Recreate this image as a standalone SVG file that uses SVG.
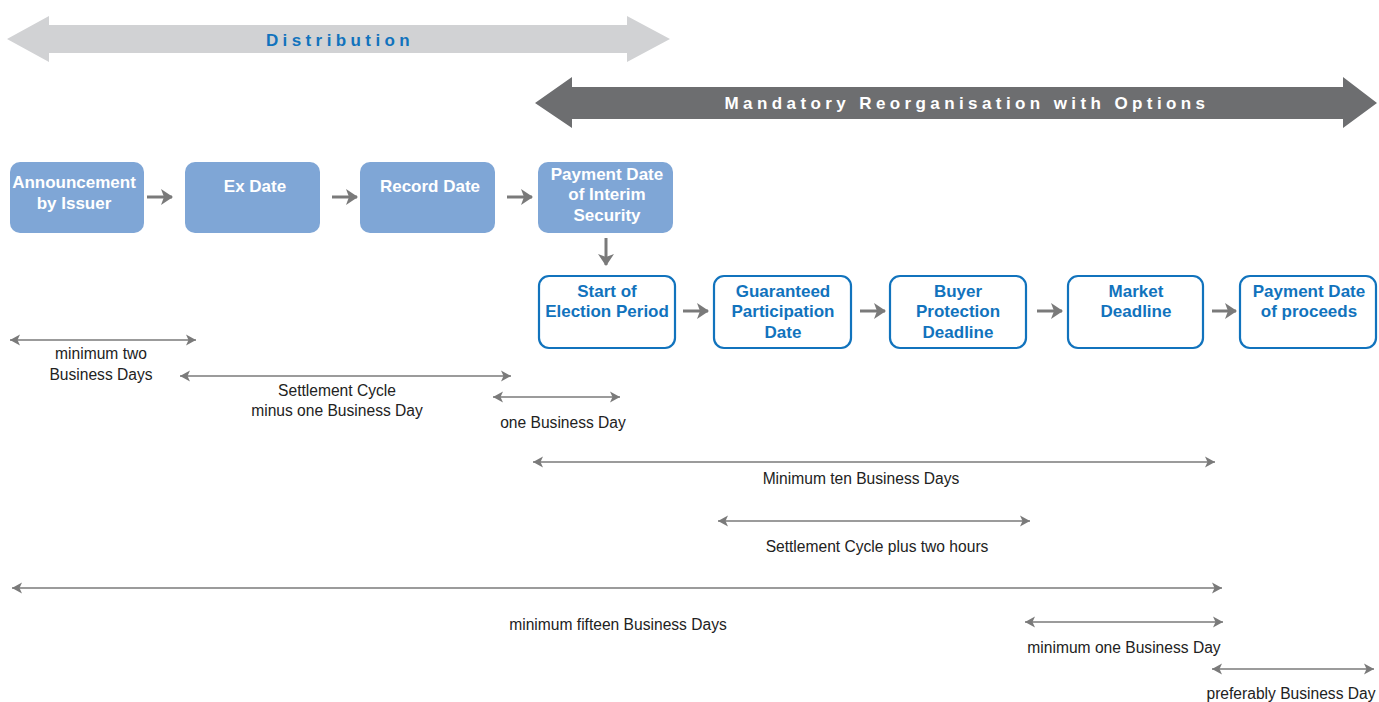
<svg xmlns="http://www.w3.org/2000/svg" width="1379" height="702" viewBox="0 0 1379 702">
<style>
.box1{fill:#7fa6d6;}
.box2{fill:#ffffff;stroke:#1173bd;stroke-width:2.2;}
.t1{font-family:"Liberation Sans",Arial,sans-serif;font-weight:bold;font-size:17px;fill:#ffffff;text-anchor:middle;}
.t2{font-family:"Liberation Sans",Arial,sans-serif;font-weight:bold;font-size:17px;fill:#1173bd;text-anchor:middle;}
.flow{stroke:#7a7a7a;stroke-width:3;fill:none;marker-end:url(#fh);}
.dim{stroke:#7a7a7a;stroke-width:1.6;fill:none;marker-start:url(#ds);marker-end:url(#de);}
.lbl{font-family:"Liberation Sans",Arial,sans-serif;font-size:15.6px;fill:#222;text-anchor:middle;}
.band{font-family:"Liberation Sans",Arial,sans-serif;font-weight:bold;font-size:17px;letter-spacing:4.4px;text-anchor:middle;}
</style>
<defs>
<marker id="fh" markerUnits="userSpaceOnUse" markerWidth="14" markerHeight="16" refX="11" refY="8" orient="auto">
<path d="M0,0 L12,8 L0,16 L3,8 Z" fill="#7a7a7a"/>
</marker>
<marker id="de" markerUnits="userSpaceOnUse" markerWidth="12" markerHeight="12" refX="10" refY="6" orient="auto">
<path d="M0,0.5 L10,6 L0,11.5 L2.5,6 Z" fill="#7a7a7a"/>
</marker>
<marker id="ds" markerUnits="userSpaceOnUse" markerWidth="12" markerHeight="12" refX="0" refY="6" orient="auto">
<path d="M10,0.5 L0,6 L10,11.5 L7.5,6 Z" fill="#7a7a7a"/>
</marker>
</defs>

<g id="band-distribution">
<path d="M7,39 L49,16 L49,25 L627,25 L627,16 L670,39 L627,62 L627,53 L49,53 L49,62 Z" fill="#d1d2d4"/>
<text class="band" x="340" y="46" fill="#1173bd">Distribution</text>
</g>
<g id="band-mandatory">
<path d="M535,103 L572,77 L572,87 L1343,87 L1343,77 L1377,103 L1343,128 L1343,119 L572,119 L572,128 Z" fill="#6d6e70"/>
<text class="band" x="967" y="109" fill="#ffffff">Mandatory Reorganisation with Options</text>
</g>

<g id="n-announcement"><rect class="box1" x="10" y="162" width="134" height="71" rx="10"/><text class="t1" x="74" y="188">Announcement</text><text class="t1" x="74" y="209">by Issuer</text></g>
<g id="n-exdate"><rect class="box1" x="185" y="162" width="135" height="71" rx="10"/><text class="t1" x="255" y="192">Ex Date</text></g>
<g id="n-recorddate"><rect class="box1" x="360" y="162" width="135" height="71" rx="10"/><text class="t1" x="430" y="192">Record Date</text></g>
<g id="n-paymentinterim"><rect class="box1" x="538" y="162" width="135" height="71" rx="10"/><text class="t1" x="607" y="180">Payment Date</text><text class="t1" x="607" y="200">of Interim</text><text class="t1" x="607" y="221">Security</text></g>

<g id="n-startelection"><rect class="box2" x="539" y="276" width="136" height="72" rx="10"/><text class="t2" x="607" y="297">Start of</text><text class="t2" x="607" y="317">Election Period</text></g>
<g id="n-guaranteed"><rect class="box2" x="714" y="276" width="137" height="72" rx="10"/><text class="t2" x="783" y="297">Guaranteed</text><text class="t2" x="783" y="317">Participation</text><text class="t2" x="783" y="338">Date</text></g>
<g id="n-buyer"><rect class="box2" x="890" y="276" width="136" height="72" rx="10"/><text class="t2" x="958" y="297">Buyer</text><text class="t2" x="958" y="317">Protection</text><text class="t2" x="958" y="338">Deadline</text></g>
<g id="n-market"><rect class="box2" x="1068" y="276" width="135" height="72" rx="10"/><text class="t2" x="1136" y="297">Market</text><text class="t2" x="1136" y="317">Deadline</text></g>
<g id="n-paymentproceeds"><rect class="box2" x="1240" y="276" width="136" height="72" rx="10"/><text class="t2" x="1309" y="297">Payment Date</text><text class="t2" x="1309" y="317">of proceeds</text></g>

<g id="connectors">
<line class="flow" x1="147" y1="197" x2="172" y2="197"/>
<line class="flow" x1="332" y1="197" x2="357" y2="197"/>
<line class="flow" x1="507" y1="197" x2="532" y2="197"/>
<line class="flow" x1="606" y1="238" x2="606" y2="265"/>
<line class="flow" x1="683" y1="311" x2="708" y2="311"/>
<line class="flow" x1="860" y1="311" x2="885" y2="311"/>
<line class="flow" x1="1037" y1="311" x2="1062" y2="311"/>
<line class="flow" x1="1212" y1="311" x2="1236" y2="311"/>

<line class="dim" x1="10" y1="340" x2="196" y2="340"/>
<line class="dim" x1="180" y1="376" x2="511" y2="376"/>
<line class="dim" x1="493" y1="397" x2="620" y2="397"/>
<line class="dim" x1="533" y1="462" x2="1215" y2="462"/>
<line class="dim" x1="718" y1="521" x2="1030" y2="521"/>
<line class="dim" x1="12" y1="588" x2="1222" y2="588"/>
<line class="dim" x1="1025" y1="622" x2="1223" y2="622"/>
<line class="dim" x1="1212" y1="669" x2="1374" y2="669"/>
</g>

<g id="labels">
<text class="lbl" x="101" y="359">minimum two</text>
<text class="lbl" x="101" y="380">Business Days</text>
<text class="lbl" x="337" y="396">Settlement Cycle</text>
<text class="lbl" x="337" y="416">minus one Business Day</text>
<text class="lbl" x="563" y="428">one Business Day</text>
<text class="lbl" x="861" y="484">Minimum ten Business Days</text>
<text class="lbl" x="877" y="552">Settlement Cycle plus two hours</text>
<text class="lbl" x="618" y="630">minimum fifteen Business Days</text>
<text class="lbl" x="1124" y="653">minimum one Business Day</text>
<text class="lbl" x="1291" y="699">preferably Business Day</text>
</g>
</svg>
